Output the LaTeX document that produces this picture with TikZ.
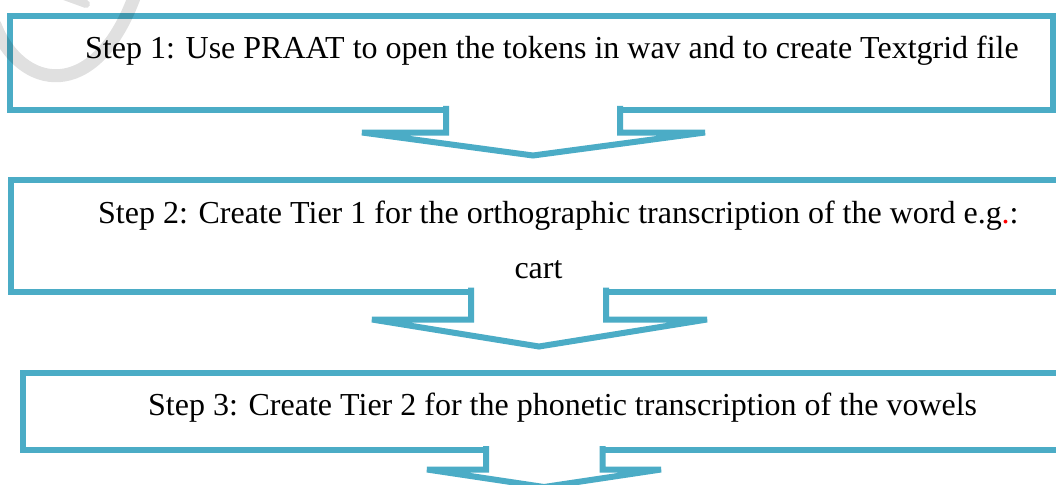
\documentclass[tikz,border=0pt]{standalone}
\usepackage{fontspec}
\setmainfont{Liberation Serif}
\definecolor{boxblue}{RGB}{75,172,198}
\begin{document}
\begin{tikzpicture}[x=1pt,y=-1pt,
  box/.style={draw=boxblue, line width=6pt, inner sep=0pt, rectangle},
  flowline/.style={draw=boxblue, line width=6pt, line join=miter},
  flowfill/.style={fill=white},
  steptext/.style={anchor=base west, inner sep=0pt, font=\fontsize{32}{38}\selectfont},
  centertext/.style={anchor=base, inner sep=0pt, font=\fontsize{32}{38}\selectfont},
  watermark/.style={line width=13pt, black, opacity=0.12, line cap=round}
]
\useasboundingbox (0,0) rectangle (1056,484);
\clip (0,0) rectangle (1056,484);
\fill[white] (0,0) rectangle (1056,484);

% boxes
\node[box, minimum width=1043pt, minimum height=94pt] (b1) at (531.5,63) {};
\node[box, minimum width=1059.5pt, minimum height=111.5pt] (b2) at (540.25,235.75) {};
\node[box, minimum width=1047.5pt, minimum height=77.5pt] (b3) at (546.25,411.25) {};

% block arrows
\fill[flowfill] (446,106.5) -- (446,132.5) -- (362,132.5) -- (533,155.5) -- (705,132.5) -- (620,132.5) -- (620,106.5) -- cycle;
\draw[flowline] (446,106) -- (446,132.5) -- (362,132.5) -- (533,155.5) -- (705,132.5) -- (620,132.5) -- (620,106);

\fill[flowfill] (471,288) -- (471,319.5) -- (372,319.5) -- (539,346.5) -- (707,319.5) -- (606,319.5) -- (606,288) -- cycle;
\draw[flowline] (471,287.5) -- (471,319.5) -- (372,319.5) -- (539,346.5) -- (707,319.5) -- (606,319.5) -- (606,287.5);

\fill[flowfill] (486,446.5) -- (486,469.5) -- (427,469.5) -- (544,487) -- (661,469.5) -- (602.5,469.5) -- (602.5,446.5) -- cycle;
\draw[flowline] (486,446) -- (486,469.5) -- (427,469.5) -- (544,487) -- (661,469.5) -- (602.5,469.5) -- (602.5,446);

% texts
\node[steptext] (t1) at (85,59) {Step 1: Use PRAAT to open the tokens in wav and to create Textgrid file};
\node[steptext] (t2) at (98,223) {Step 2: Create Tier 1 for the orthographic transcription of the word e.g\textcolor{red}{.}:};
\node[centertext] (t2b) at (538.5,278) {cart};
\node[steptext] (t3) at (148,415) {Step 3: Create Tier 2 for the phonetic transcription of the vowels};

% faint watermark fragment
\draw[watermark] (-5,25) .. controls (20,90) and (95,105) .. (135,-5);
\draw[watermark, line width=8pt] (64,-4) -- (86,4);
\end{tikzpicture}
\end{document}
